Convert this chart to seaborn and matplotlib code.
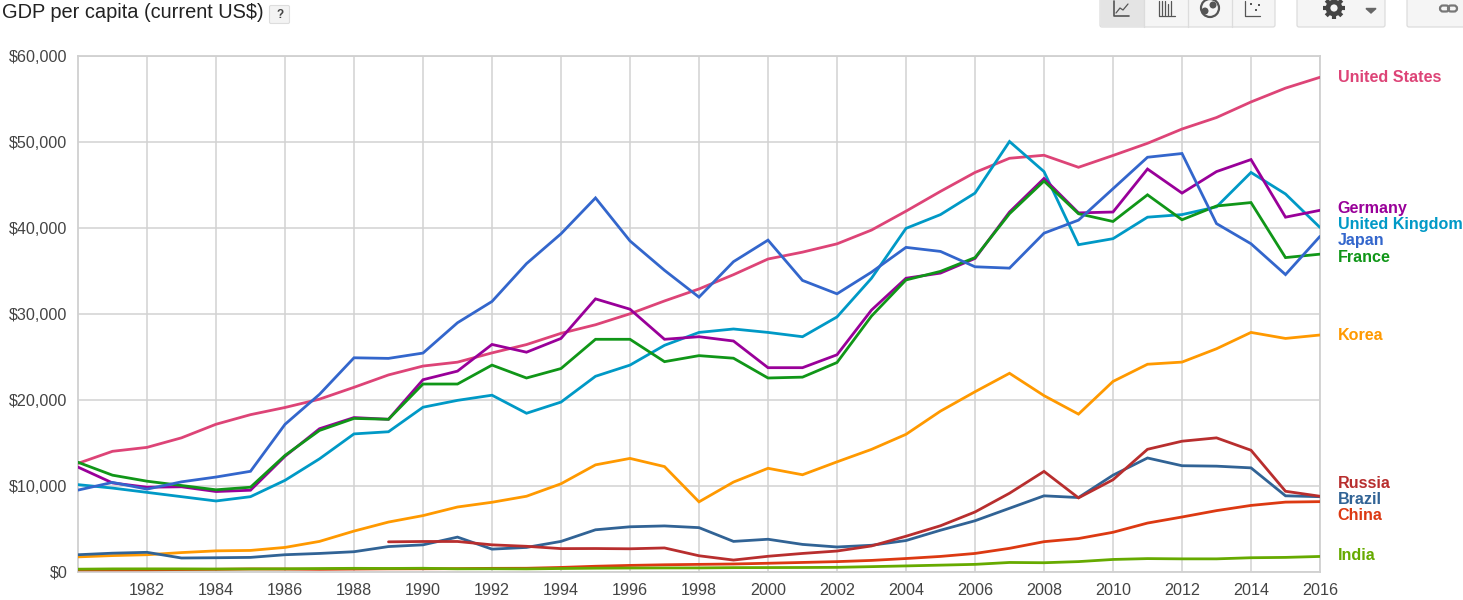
import numpy as np
import pandas as pd
import matplotlib
matplotlib.use("Agg")
import matplotlib.pyplot as plt
from matplotlib.patches import FancyBboxPatch, Circle, Rectangle
import seaborn as sns

years = list(range(1980, 2017))
nan = float("nan")

united_states = [12575, 13976, 14434, 15544, 17121, 18237, 19071, 20039, 21417, 22857, 23889, 24342, 25419, 26387, 27695, 28691, 29968, 31459, 32854, 34515, 36335, 37134, 38100, 39700, 41900, 44200, 46400, 48050, 48400, 47000, 48374, 49790, 51450, 52787, 54599, 56207, 57467]
japan = [9465, 10361, 9578, 10425, 10984, 11650, 17112, 20600, 24850, 24780, 25400, 28925, 31400, 35800, 39269, 43440, 38437, 35022, 31903, 36027, 38532, 33846, 32289, 34808, 37689, 37218, 35434, 35275, 39339, 40855, 44508, 48168, 48603, 40454, 38109, 34524, 38972]
germany = [12138, 10300, 9800, 9850, 9300, 9450, 13400, 16600, 17900, 17700, 22300, 23300, 26400, 25500, 27100, 31700, 30500, 27000, 27300, 26800, 23700, 23700, 25200, 30400, 34100, 34700, 36400, 41800, 45700, 41700, 41800, 46800, 44000, 46500, 47900, 41200, 42000]
france = [12700, 11200, 10500, 10000, 9500, 9800, 13500, 16400, 17800, 17700, 21800, 21800, 24000, 22500, 23600, 27000, 27000, 24400, 25100, 24800, 22500, 22600, 24300, 29700, 33900, 34900, 36500, 41600, 45400, 41600, 40700, 43800, 40900, 42500, 42900, 36500, 36900]
united_kingdom = [10100, 9700, 9200, 8700, 8200, 8700, 10600, 13100, 16000, 16250, 19100, 19900, 20500, 18400, 19700, 22700, 24000, 26300, 27800, 28200, 27800, 27300, 29600, 34100, 39900, 41500, 44000, 50000, 46500, 38000, 38700, 41200, 41500, 42400, 46400, 43900, 40000]
korea = [1700, 1850, 1950, 2200, 2400, 2450, 2800, 3500, 4700, 5750, 6500, 7500, 8050, 8750, 10200, 12400, 13150, 12200, 8100, 10400, 12000, 11250, 12750, 14200, 15950, 18650, 20900, 23050, 20450, 18300, 22100, 24100, 24350, 25900, 27800, 27100, 27500]
brazil = [1950, 2130, 2230, 1570, 1600, 1640, 1950, 2100, 2300, 2900, 3100, 4000, 2600, 2800, 3500, 4850, 5200, 5300, 5100, 3500, 3750, 3150, 2850, 3050, 3600, 4800, 5900, 7350, 8800, 8600, 11200, 13200, 12300, 12250, 12050, 8800, 8700]
russia = [nan] * 9 + [3450, 3490, 3490, 3100, 2930, 2660, 2670, 2640, 2740, 1830, 1330, 1770, 2100, 2380, 2970, 4100, 5320, 6920, 9100, 11640, 8560, 10670, 14210, 15150, 15540, 14100, 9330, 8750]
china = [195, 197, 203, 225, 250, 294, 282, 252, 284, 311, 318, 333, 366, 377, 473, 610, 709, 782, 829, 873, 959, 1053, 1149, 1289, 1509, 1753, 2099, 2694, 3468, 3832, 4560, 5633, 6337, 7078, 7684, 8069, 8123]
india = [271, 303, 307, 305, 290, 301, 315, 346, 368, 354, 376, 312, 322, 304, 348, 383, 405, 416, 419, 450, 457, 466, 485, 565, 650, 740, 830, 1050, 1020, 1150, 1400, 1500, 1470, 1470, 1600, 1640, 1750]

series = {
    "United States": united_states, "United Kingdom": united_kingdom, "Germany": germany,
    "France": france, "Japan": japan, "Korea": korea, "Brazil": brazil, "Russia": russia,
    "China": china, "India": india,
}
palette = {
    "United States": "#dd4477", "United Kingdom": "#0099c6", "Germany": "#990099",
    "France": "#109618", "Japan": "#3366cc", "Korea": "#ff9900", "Brazil": "#316395",
    "Russia": "#b82e2e", "China": "#dc3912", "India": "#66aa00",
}
label_rows = {"United States": 78, "Germany": 209, "United Kingdom": 225, "Japan": 241,
              "France": 258, "Korea": 335, "Russia": 483, "Brazil": 499, "China": 515, "India": 555}

df = pd.DataFrame([{"year": y, "country": c, "gdp": v}
                   for c, vals in series.items() for y, v in zip(years, vals)]).dropna()

sns.set_theme(style="white")
plt.rcParams["font.family"] = ["Liberation Sans", "DejaVu Sans"]

W, H = 1463, 600
fig = plt.figure(figsize=(W / 100, H / 100), dpi=100, facecolor="white")
ax = fig.add_axes([78 / W, (H - 571.5) / H, 1242 / W, 516 / H])
sns.lineplot(data=df, x="year", y="gdp", hue="country", hue_order=list(series), palette=palette,
             legend=False, linewidth=2.0, estimator=None, ax=ax, solid_joinstyle="miter", zorder=3)

ax.set_xlim(1980, 2016)
ax.set_ylim(0, 60000)
ax.set_xlabel("")
ax.set_ylabel("")
ax.set_xticks(list(range(1982, 2017, 2)))
ax.set_xticks(list(range(1981, 2016, 2)), minor=True)
ax.set_yticks(list(range(0, 60001, 10000)))
ax.set_yticklabels([f"${v:,}" for v in range(0, 60001, 10000)])
ax.grid(True, which="major", color="#d2d2d2", linewidth=1.1, zorder=0)
ax.set_axisbelow(True)
ax.tick_params(axis="x", which="major", length=0, pad=8.5, labelsize=11.6, labelcolor="#444444")
ax.tick_params(axis="x", which="minor", direction="in", length=4, width=0.8, color="#cccccc")
ax.tick_params(axis="y", which="major", length=0, pad=7.5, labelsize=11.6, labelcolor="#444444")
for s in ax.spines.values():
    s.set_color("#d0d0d0")
    s.set_linewidth(1.3)

# page chrome, in pixel coordinates
ov = fig.add_axes([0, 0, 1, 1], facecolor="none", zorder=5)
ov.set_xlim(0, W)
ov.set_ylim(H, 0)
ov.axis("off")
ov.text(2, 13, "GDP per capita (current US$)", fontsize=14.4, color="#222222", va="center", ha="left")
ov.add_patch(FancyBboxPatch((269.5, 5.5), 20, 18, boxstyle="round,pad=0,rounding_size=1.5",
                            fc="#f3f3f3", ec="#dddddd", lw=0.8))
ov.text(280, 15, "?", fontsize=8.5, fontweight="bold", color="#444444", ha="center", va="center")

for c, row in label_rows.items():
    ov.text(1337.5, row, c, color=palette[c], fontsize=11.6, fontweight="bold", ha="left", va="center")

def button(x0, x1, fc="#f5f5f5"):
    ov.add_patch(FancyBboxPatch((x0, -8), x1 - x0, 35, boxstyle="round,pad=0,rounding_size=2",
                                fc=fc, ec="#dcdcdc", lw=0.9))

button(1100, 1275)
ov.add_patch(Rectangle((1100.5, -2), 43, 28.5, fc="#e4e4e4", ec="none"))
for x in (1143.5, 1187.5, 1231.5):
    ov.plot([x, x], [-2, 27], color="#dcdcdc", lw=0.9)
button(1297, 1385)
button(1407, 1475)

icon = "#555555"
ov.plot([1114, 1114, 1129], [1, 16, 16], color=icon, lw=1.2)
ov.plot([1116, 1120, 1123, 1128], [13, 8, 10, 4], color=icon, lw=0.9)
ov.plot([1159, 1159, 1175], [1, 16, 16], color=icon, lw=0.9)
for x in (1162, 1165, 1168, 1171):
    ov.plot([x, x], [1 if x != 1168 else 4, 15], color=icon, lw=0.9)
ov.add_patch(Circle((1210, 8), 9, fc="#f5f5f5", ec=icon, lw=1.6))
ov.add_patch(Circle((1213, 5), 3.5, fc=icon, ec="none"))
ov.add_patch(Circle((1205, 11), 3.5, fc=icon, ec="none"))
ov.plot([1245, 1245, 1260], [1, 16, 16], color=icon, lw=0.9)
for x, y in ((1251, 4), (1256, 10), (1259, 5)):
    ov.add_patch(Rectangle((x - 1, y - 1), 2.2, 2.2, fc=icon, ec="none"))
# gear icon
gear = "#444444"
ov.add_patch(Circle((1334, 8), 6, fc="none", ec=gear, lw=3.4))
for a in np.deg2rad(np.arange(0, 360, 45)):
    ov.plot([1334 + 7 * np.cos(a), 1334 + 11 * np.cos(a)], [8 + 7 * np.sin(a), 8 + 11 * np.sin(a)],
            color=gear, lw=3, solid_capstyle="butt")
ov.fill([1366, 1376, 1371], [8.5, 8.5, 13], color="#666666")
ov.add_patch(FancyBboxPatch((1440, 5.5), 9, 6, boxstyle="round,pad=0,rounding_size=3",
                            fc="none", ec="#777777", lw=1.6))
ov.add_patch(FancyBboxPatch((1448, 5.5), 9, 6, boxstyle="round,pad=0,rounding_size=3",
                            fc="none", ec="#777777", lw=1.6))

fig.savefig("out.png", dpi=100, facecolor="white")
